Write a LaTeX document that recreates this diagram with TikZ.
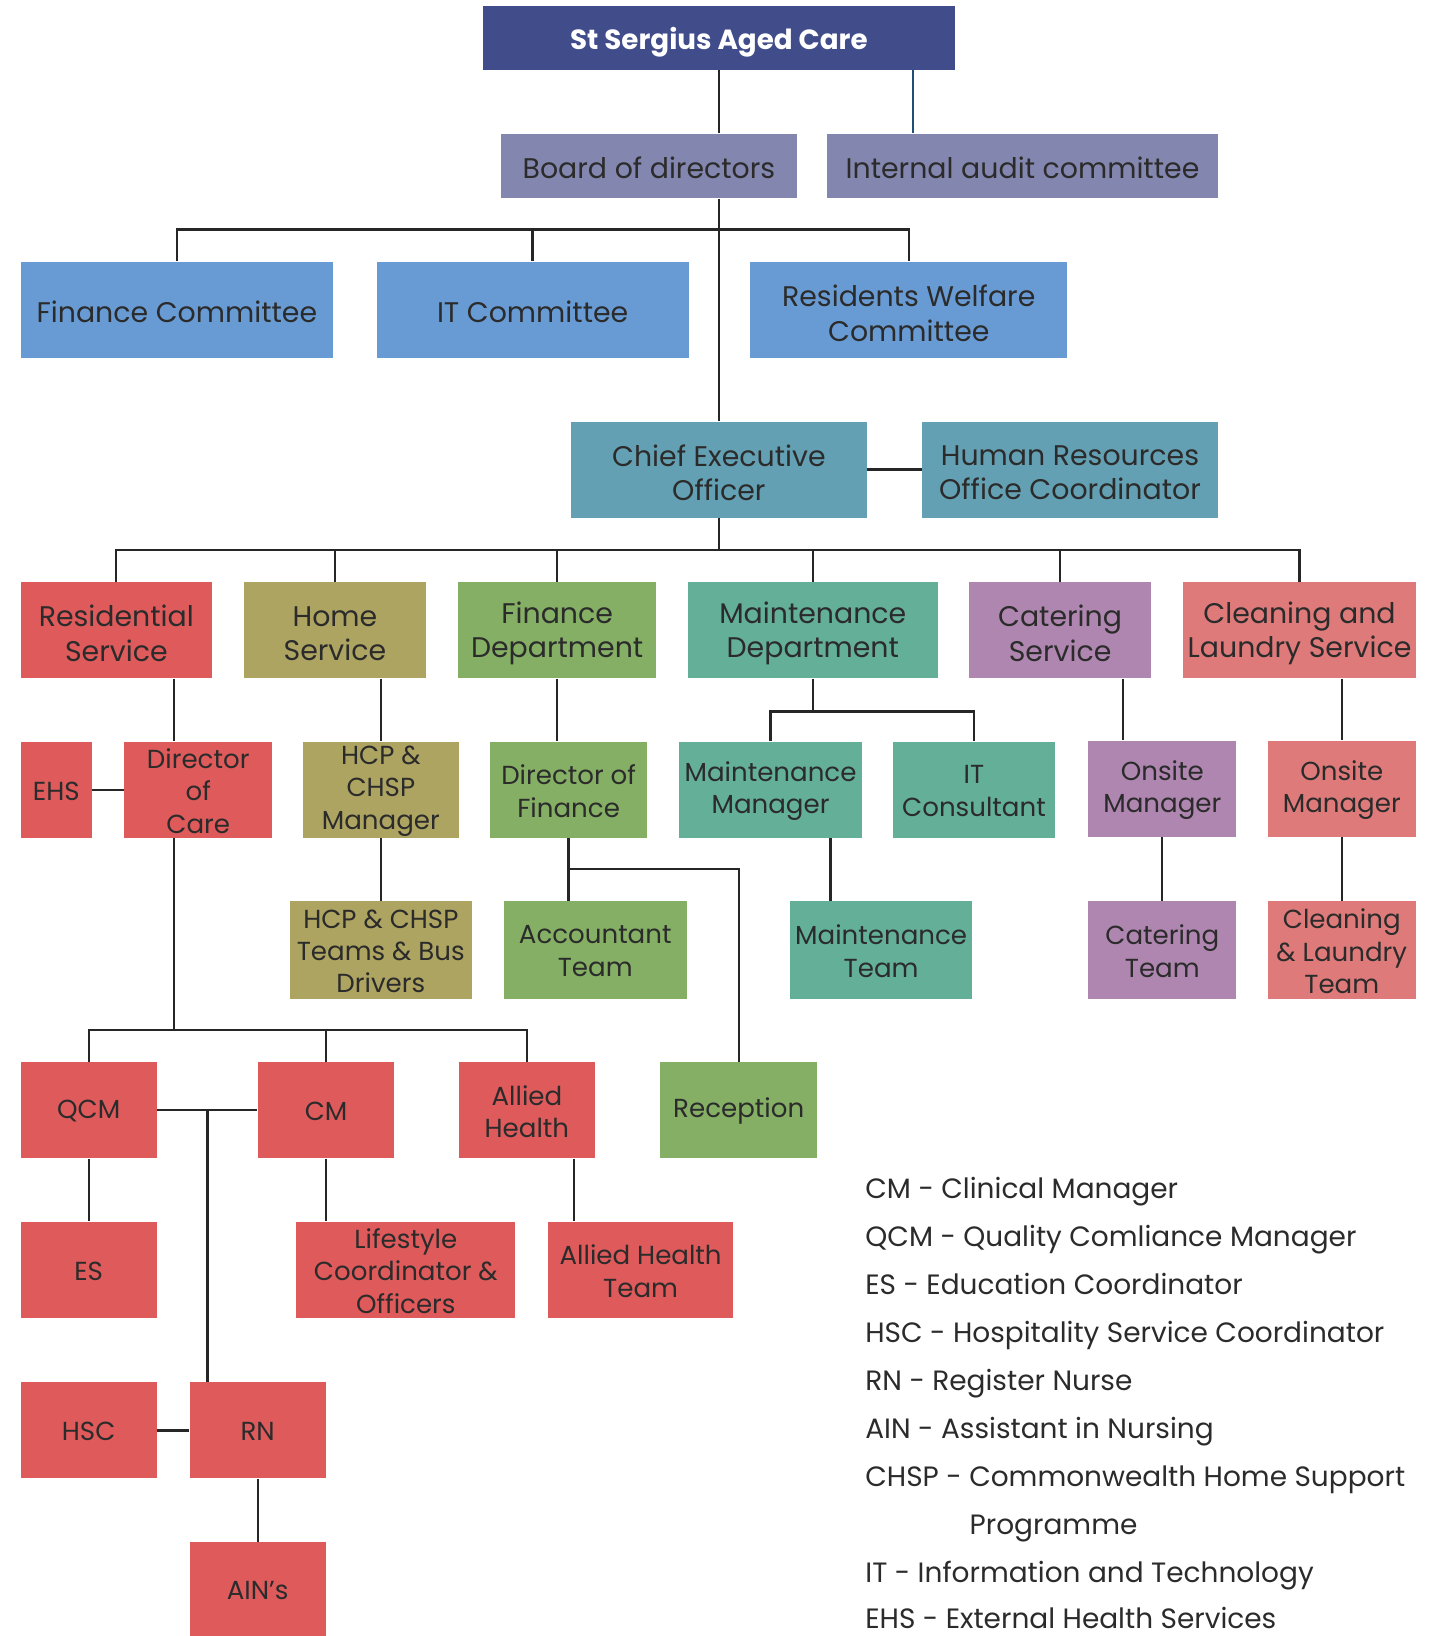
\documentclass[tikz,border=0pt]{standalone}
\usepackage{fontspec}
\setmainfont{Poppins}
\usetikzlibrary{calc}
\definecolor{ctitle}{HTML}{414C8B}
\definecolor{cboard}{HTML}{8386AF}
\definecolor{cblue}{HTML}{689BD3}
\definecolor{cceo}{HTML}{64A0B3}
\definecolor{cred}{HTML}{DE5A5B}
\definecolor{colive}{HTML}{AEA462}
\definecolor{cgreen}{HTML}{84AF64}
\definecolor{cteal}{HTML}{63AF97}
\definecolor{cpurple}{HTML}{AE86AF}
\definecolor{csalmon}{HTML}{DE7B7A}
\definecolor{ctext}{HTML}{2B2B2B}
\definecolor{cline}{HTML}{262626}
\definecolor{cnavy}{HTML}{1F4E79}
\tikzset{tshift/.store in=\tshiftval, tshift=0pt}
\newcommand\bx[7]{%
  \pgfmathsetmacro\bw{(#4-#2)*0.5}\pgfmathsetmacro\bh{(#5-#3)*0.5}%
  \node[box,#6,minimum width=\bw pt,minimum height=\bh pt] (#1) at ({(#2+#4)/2},{(#3+#5)/2}) {};
  \node[box,#6,fill=none,yshift=-\tshiftval] (#1t) at (#1.center) {#7};}
\begin{document}
\begin{tikzpicture}[x=0.5pt,y=-0.5pt,
  box/.style={rectangle,inner sep=0pt,align=center,text=ctext},
  fa/.style={font=\fontsize{13.6}{16.5}\selectfont,tshift=1.6pt},
  fb/.style={font=\fontsize{12.5}{15.5}\selectfont,tshift=0.6pt},
  conn/.style={draw=cline,line width=1.1pt},
  legend/.style={anchor=base west,inner sep=0pt,text=ctext,font=\fontsize{13.4}{16}\selectfont}]
\useasboundingbox (0,0) rectangle (1386,1568);
% boxes
\bx{title}{463}{6}{915}{67}{fill=ctitle,text=white,font=\fontsize{13.3}{16}\selectfont\bfseries,tshift=2pt}{St Sergius Aged Care}
\bx{board}{480}{128}{764}{190}{fill=cboard,fa,tshift=1pt}{Board of directors}
\bx{audit}{793}{128}{1167}{190}{fill=cboard,fa,tshift=1pt}{Internal audit committee}
\bx{fc}{20}{251}{319}{343}{fill=cblue,fa,tshift=1pt}{Finance Committee}
\bx{itc}{361}{251}{660}{343}{fill=cblue,fa,tshift=1pt}{IT Committee}
\bx{rwc}{719}{251}{1023}{343}{fill=cblue,fa}{Residents Welfare\\Committee}
\bx{ceo}{547}{404}{831}{496}{fill=cceo,fa}{Chief Executive\\Officer}
\bx{hr}{884}{404}{1167}{496}{fill=cceo,fa}{Human Resources\\Office Coordinator}
\bx{res}{20}{558}{203}{650}{fill=cred,fa}{Residential\\Service}
\bx{home}{234}{558}{408}{650}{fill=colive,fa}{Home\\Service}
\bx{find}{439}{558}{629}{650}{fill=cgreen,fa}{Finance\\Department}
\bx{maint}{659}{558}{899}{650}{fill=cteal,fa}{Maintenance\\Department}
\bx{cat}{929}{558}{1103}{650}{fill=cpurple,fa}{Catering\\Service}
\bx{cls}{1134}{558}{1357}{650}{fill=csalmon,fa}{Cleaning and\\Laundry Service}
\bx{ehs}{20}{711}{88}{803}{fill=cred,fb}{EHS}
\bx{doc}{119}{711}{261}{803}{fill=cred,fb}{Director\\of\\Care}
\bx{hcpm}{290}{711}{440}{803}{fill=colive,fb}{HCP \&\\CHSP\\Manager}
\bx{dof}{470}{711}{620}{803}{fill=cgreen,fb}{Director of\\Finance}
\bx{mm}{651}{711}{826}{803}{fill=cteal,fb}{Maintenance\\Manager}
\bx{itcons}{856}{711}{1011}{803}{fill=cteal,fb}{IT\\Consultant}
\bx{com}{1043}{710}{1185}{802}{fill=cpurple,fb}{Onsite\\Manager}
\bx{clom}{1215}{710}{1357}{802}{fill=csalmon,fb}{Onsite\\Manager}
\bx{hcpt}{278}{864}{452}{957}{fill=colive,fb}{HCP \& CHSP\\Teams \& Bus\\Drivers}
\bx{acc}{483}{864}{658}{957}{fill=cgreen,fb}{Accountant\\Team}
\bx{mt}{757}{864}{932}{957}{fill=cteal,fb}{Maintenance\\Team}
\bx{cteam}{1043}{864}{1185}{957}{fill=cpurple,fb}{Catering\\Team}
\bx{clt}{1215}{864}{1357}{957}{fill=csalmon,fb}{Cleaning\\\& Laundry\\Team}
\bx{qcm}{20}{1018}{150}{1110}{fill=cred,fb}{QCM}
\bx{cm}{247}{1018}{378}{1110}{fill=cred,fb}{CM}
\bx{ah}{440}{1018}{570}{1110}{fill=cred,fb}{Allied\\Health}
\bx{rec}{633}{1018}{783}{1110}{fill=cgreen,fb}{Reception}
\bx{es}{20}{1171}{150}{1263}{fill=cred,fb}{ES}
\bx{lco}{284}{1171}{494}{1263}{fill=cred,fb}{Lifestyle\\Coordinator \&\\Officers}
\bx{aht}{525}{1171}{703}{1263}{fill=cred,fb}{Allied Health\\Team}
\bx{hsc}{20}{1325}{150}{1417}{fill=cred,fb}{HSC}
\bx{rn}{182}{1325}{312}{1417}{fill=cred,fb}{RN}
\bx{ain}{182}{1478}{312}{1568}{fill=cred,fb}{AIN’s}
% junction coordinates
\coordinate (ia) at (875,67);
\coordinate (b1) at (689,220);
\coordinate (b2) at (689,527);
\coordinate (b3) at (779,682);
\coordinate (dl) at (167,987);
\coordinate (rb) at (708,833);
\coordinate (mx) at (796,833);
\coordinate (cx) at (1076,680);
\coordinate (rx) at (199,1064);
\coordinate (ax) at (550,1140);
% connectors
\draw[conn] (title.south) -- (title.south |- board.north);
\draw[draw=cnavy,line width=1.1pt] (ia) -- (ia |- audit.north);
\draw[conn] (board.south -| ceo.north) -- (ceo.north);
\draw[conn] (fc.north) |- (b1) -| (rwc.north);
\draw[conn] (itc.north) -- (itc.north |- b1);
\draw[conn] (ceo.east) -- (hr.west);
\draw[conn] (ceo.south) -- (b2);
\draw[conn] (res.north) |- (b2) -| (cls.north);
\draw[conn] (home.north) -- (home.north |- b2);
\draw[conn] (find.north) -- (find.north |- b2);
\draw[conn] (maint.north) -- (maint.north |- b2);
\draw[conn] (cat.north) -- (cat.north |- b2);
\draw[conn] (res.south -| dl) -- (doc.north -| dl);
\draw[conn] (doc.south -| dl) -- (dl);
\draw[conn] (ehs.east) -- (doc.west);
\draw[conn] (home.south -| hcpm.north) -- (hcpm.north);
\draw[conn] (hcpm.south) -- (hcpt.north);
\draw[conn] (find.south) -- (find.south |- dof.north);
\draw[conn] (dof.south) -- (dof.south |- acc.north);
\draw[conn] (dof.south |- rb) -| (rec.north);
\draw[conn] (maint.south) -- (b3);
\draw[conn] (mm.north) |- (b3) -| (itcons.north);
\draw[conn] (mm.south -| mx) -- (mt.north -| mx);
\draw[conn] (cat.south -| cx) -- (com.north -| cx);
\draw[conn] (com.south) -- (cteam.north);
\draw[conn] (clom.north |- cls.south) -- (clom.north);
\draw[conn] (clom.south) -- (clt.north);
\draw[conn] (qcm.north) |- (dl) -| (ah.north);
\draw[conn] (cm.north) -- (cm.north |- dl);
\draw[conn] (qcm.east) -- (cm.west);
\draw[conn] (rx) -- (rx |- rn.north);
\draw[conn] (qcm.south) -- (es.north);
\draw[conn] (cm.south) -- (cm.south |- lco.north);
\draw[conn] (ah.south -| ax) -- (aht.north -| ax);
\draw[conn] (hsc.east) -- (rn.west);
\draw[conn] (rn.south) -- (ain.north);
% legend
\node[legend] (l1) at (829,1149) {CM - Clinical Manager};
\node[legend] (l2) at (829,1195) {QCM - Quality Comliance Manager};
\node[legend] (l3) at (829,1241) {ES - Education Coordinator};
\node[legend] (l4) at (829,1287) {HSC - Hospitality Service Coordinator};
\node[legend] (l5) at (829,1333) {RN - Register Nurse};
\node[legend] (l6) at (829,1379) {AIN - Assistant in Nursing};
\node[legend] (l7) at (829,1425) {CHSP - Commonwealth Home Support};
\node[legend] (l8) at (929,1471) {Programme};
\node[legend] (l9) at (829,1517) {IT - Information and Technology};
\node[legend] (l10) at (829,1561) {EHS - External Health Services};
\end{tikzpicture}
\end{document}
